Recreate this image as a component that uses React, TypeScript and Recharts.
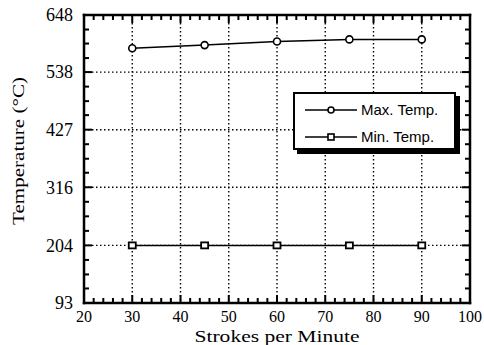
import { LineChart, Line, XAxis, YAxis, CartesianGrid, Label } from "recharts";

const strokes = [30, 45, 60, 75, 90];
const maxTemp = [584, 590, 597, 601, 601];
const minTemp = [204, 204, 204, 204, 204];

const xTicks = [20, 30, 40, 50, 60, 70, 80, 90, 100];
const xAllTicks = [
  20, 22, 24, 26, 28, 30, 32, 34, 36, 38, 40, 42, 44, 46, 48, 50, 52, 54, 56, 58, 60,
  62, 64, 66, 68, 70, 72, 74, 76, 78, 80, 82, 84, 86, 88, 90, 92, 94, 96, 98, 100,
];
const yTicks = [93, 204, 316, 427, 538, 648];
const yAllTicks = [
  93, 121, 148, 176, 204, 232, 260, 288, 316, 344, 371, 399, 427, 455, 482, 510, 538,
  565, 593, 620, 648,
];

const series = [
  { key: "max", name: "Max. Temp.", marker: "circle" },
  { key: "min", name: "Min. Temp.", marker: "square" },
];

const data = strokes.map((s, i) => ({ strokes: s, max: maxTemp[i], min: minTemp[i] }));

const serif = "'Liberation Serif', 'Times New Roman', serif";
const sans = "'Liberation Sans', Arial, sans-serif";

const W = 484;
const H = 345;
const MARGIN = { top: 15, right: 14, bottom: 42, left: 84 };
const X_GAP = 8;
const Y_GAP = 11;
const THIN = 0.01;
const MAJOR = 8;
const MINOR = 5;
const TW = 2; // tick mark thickness

// grid: dotted at major values, solid frame at both ends
const makeGridLine = (all: number[], majors: number[], name: string) => (p: any) => {
  const v = all[p.index];
  const edge = v === all[0] || v === all[all.length - 1];
  if (edge) {
    return <line key={`${name}${p.index}`} x1={p.x1} y1={p.y1} x2={p.x2} y2={p.y2} stroke="#000" strokeWidth={2.5} strokeLinecap="square" />;
  }
  if (majors.includes(v)) {
    return <line key={`${name}${p.index}`} x1={p.x1} y1={p.y1} x2={p.x2} y2={p.y2} stroke="#000" strokeWidth={1.4} strokeDasharray="1.5 2.5" />;
  }
  return <g key={`${name}${p.index}`} />;
};
const GridV = makeGridLine(xAllTicks, xTicks, "v");
const GridH = makeGridLine(yAllTicks, yTicks, "h");

// x tick: inward marks at bottom and top, label on majors only
const XTick = (p: any) => {
  const major = xTicks.includes(p.payload.value);
  const len = major ? MAJOR : MINOR;
  const bottom = p.y - X_GAP;
  const top = MARGIN.top;
  return (
    <g>
      <rect x={p.x - TW / 2} y={bottom - len} width={TW} height={len} fill="#000" />
      <rect x={p.x - TW / 2} y={top} width={TW} height={len} fill="#000" />
      {major && (
        <text x={p.x} y={p.y} dy="0.71em" textAnchor="middle" fontFamily={serif} fontSize={16} fill="#000">
          {p.payload.value}
        </text>
      )}
    </g>
  );
};

// y tick: inward marks at left and right, label on majors only
const YTick = (p: any) => {
  const major = yTicks.includes(p.payload.value);
  const len = major ? MAJOR : MINOR;
  const left = p.x + Y_GAP;
  const right = W - MARGIN.right;
  return (
    <g>
      <rect x={left} y={p.y - TW / 2} width={len} height={TW} fill="#000" />
      <rect x={right - len} y={p.y - TW / 2} width={len} height={TW} fill="#000" />
      {major && (
        <text x={p.x} y={p.y} dy="0.355em" textAnchor="end" fontFamily={serif} fontSize={18} fill="#000">
          {p.payload.value}
        </text>
      )}
    </g>
  );
};

const CircleDot = (p: any) => (
  <circle key={`c${p.index}`} cx={p.cx} cy={p.cy} r={3.5} fill="#fff" stroke="#000" strokeWidth={1.6} />
);

const SquareDot = (p: any) => (
  <rect key={`s${p.index}`} x={p.cx - 3.5} y={p.cy - 3} width={7} height={6} fill="#fff" stroke="#000" strokeWidth={1.8} />
);

const XTitle = (props: any) => {
  const vb = props.viewBox || { x: 0, y: 0, width: 0 };
  return (
    <text
      x={vb.x + vb.width / 2}
      y={vb.y + 39}
      textAnchor="middle"
      fontFamily={serif}
      fontSize={17}
      textLength={165}
      lengthAdjust="spacingAndGlyphs"
      fill="#000"
    >
      Strokes per Minute
    </text>
  );
};

const YTitle = (props: any) => {
  const vb = props.viewBox || { x: 0, y: 0, height: 0 };
  const cx = vb.x - 60;
  const cy = vb.y + vb.height / 2 - 8;
  return (
    <text
      x={cx}
      y={cy}
      transform={`rotate(-90, ${cx}, ${cy})`}
      textAnchor="middle"
      fontFamily={serif}
      fontSize={17}
      textLength={148}
      lengthAdjust="spacingAndGlyphs"
      fill="#000"
    >
      Temperature (°C)
    </text>
  );
};

function LegendBox() {
  return (
    <div
      style={{
        position: "absolute",
        left: 293,
        top: 92,
        width: 163,
        height: 58,
        boxSizing: "border-box",
        border: "2px solid #000",
        boxShadow: "4px 4px 0 0 #000",
        background: "#fff",
        fontFamily: sans,
        fontSize: 15,
        lineHeight: "15px",
        color: "#000",
        paddingTop: 2,
      }}
    >
      {series.map((s) => (
        <div key={s.key} style={{ display: "flex", alignItems: "center", height: 27 }}>
          <svg width={66} height={12} style={{ flex: "none" }}>
            <line x1={10} y1={6} x2={62} y2={6} stroke="#000" strokeWidth={1.5} />
            {s.marker === "circle" ? (
              <circle cx={36} cy={6} r={3} fill="#fff" stroke="#000" strokeWidth={1.6} />
            ) : (
              <rect x={33} y={3} width={6} height={6} fill="#fff" stroke="#000" strokeWidth={1.6} />
            )}
          </svg>
          <span>{s.name}</span>
        </div>
      ))}
    </div>
  );
}

export default function App() {
  return (
    <div style={{ position: "absolute", left: 0, top: 0, width: W, height: H, background: "#fff" }}>
      <LineChart width={W} height={H} data={data} margin={MARGIN}>
        <CartesianGrid xAxisId="main" yAxisId="main" vertical={GridV} horizontal={GridH} />
        <XAxis
          xAxisId="main"
          type="number"
          dataKey="strokes"
          domain={[20, 100]}
          allowDataOverflow
          orientation="bottom"
          height={THIN}
          ticks={xAllTicks}
          interval={0}
          tickLine={false}
          tickSize={0}
          tickMargin={X_GAP}
          axisLine={false}
          tick={XTick}
        >
          <Label content={<XTitle />} position="bottom" />
        </XAxis>
        <YAxis
          yAxisId="main"
          type="number"
          domain={[93, 648]}
          allowDataOverflow
          orientation="left"
          width={THIN}
          ticks={yAllTicks}
          interval={0}
          tickLine={false}
          tickSize={0}
          tickMargin={Y_GAP}
          axisLine={false}
          tick={YTick}
        >
          <Label content={<YTitle />} position="left" />
        </YAxis>
        {series.map((s) => (
          <Line
            key={s.key}
            xAxisId="main"
            yAxisId="main"
            type="linear"
            dataKey={s.key}
            name={s.name}
            stroke="#000"
            strokeWidth={1.5}
            dot={s.marker === "circle" ? CircleDot : SquareDot}
            isAnimationActive={false}
          />
        ))}
      </LineChart>
      <LegendBox />
    </div>
  );
}
